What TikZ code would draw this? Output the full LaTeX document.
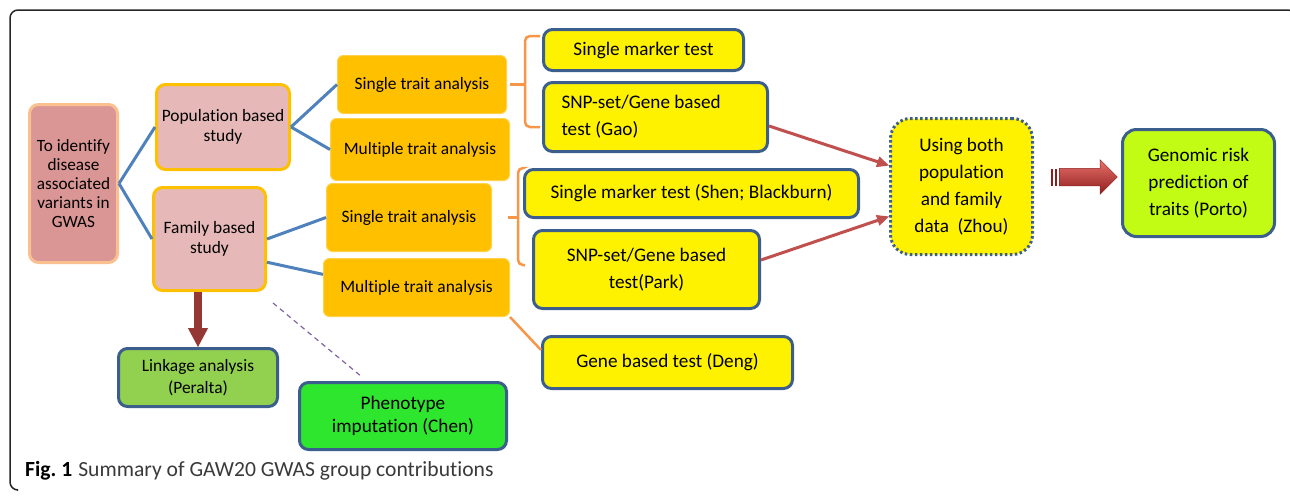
\documentclass[tikz,border=0pt]{standalone}
\usepackage{fontspec}
\setmainfont{Carlito}[Ligatures=NoCommon]
\usepackage{tikz}
\usetikzlibrary{arrows.meta,positioning,shapes.arrows,calc}
\definecolor{rootfill}{HTML}{D99694}
\definecolor{rootline}{HTML}{FAC090}
\definecolor{studyfill}{HTML}{E6B9B8}
\definecolor{gold}{HTML}{FFC000}
\definecolor{goldline}{HTML}{FFD24D}
\definecolor{testline}{HTML}{3B5E8C}
\definecolor{linkblue}{HTML}{4F81BD}
\definecolor{braceorange}{HTML}{F79646}
\definecolor{arrowred}{HTML}{C0504D}
\definecolor{arrowlight}{HTML}{E8706A}
\definecolor{arrowdark}{HTML}{8E1E1E}
\definecolor{darkred}{HTML}{953735}
\definecolor{linkgreen}{HTML}{92D050}
\definecolor{imputgreen}{HTML}{2EE62E}
\definecolor{limegreen}{HTML}{C2FC14}
\definecolor{dashpurple}{HTML}{8064A2}
\definecolor{capgray}{HTML}{3A3A3A}
\newcommand{\smallfont}{\fontsize{17.4}{19.5}\selectfont}
\newcommand{\bigfont}{\fontsize{19.2}{27}\selectfont}

\begin{document}
\begin{tikzpicture}[x=1pt, y=1pt, node distance=40pt, on grid,
        box/.style={rounded corners=9pt, inner sep=0pt, align=center, line width=3pt},
        rootbox/.style={box, fill=rootfill, draw=rootline, font=\fontsize{17.2}{19}\selectfont},
        studybox/.style={box, fill=studyfill, draw=gold, font=\smallfont},
        traitbox/.style={box, rounded corners=6pt, fill=gold, draw=goldline, line width=1pt, font=\smallfont},
        testbox/.style={box, fill=yellow, draw=testline, font=\bigfont},
        conn/.style={draw=linkblue, line width=3pt},
        brace/.style={draw=braceorange, line width=2.5pt, rounded corners=5pt},
        redarrow/.style={draw=arrowred, line width=3pt, -{Triangle[length=12pt,width=11pt,line width=1pt]}},
        downarrow/.style={draw=darkred, line width=8pt, -{Triangle[length=19pt,width=20pt,line width=1pt]}},
        dashline/.style={draw=dashpurple, line width=1.2pt, dash pattern=on 5pt off 4pt},
        bigarrowstyle/.style={single arrow, single arrow head extend=8.5pt, minimum height=58pt,
          inner xsep=0pt, inner ysep=8.5pt, outer sep=0pt, top color=arrowlight, middle color=arrowred, bottom color=arrowdark,
          draw=arrowdark, line width=0.5pt}]
        \useasboundingbox (0,0) rectangle (1290,-496);
        \draw[line width=1.5pt, black!85, rounded corners=8pt] (1296,-40) |- (10,-10) -- (10,-490) -- (17,-490);

        \node[rootbox, minimum width=88pt, minimum height=158pt] (root) at (73.5,-183.5) {To identify\\disease\\associated\\variants in\\GWAS};
        \node[studybox, minimum width=133pt, minimum height=85pt, above right=56.5pt and 149.5pt of root] (pop) {Population based\\study};
        \node[studybox, minimum width=112pt, minimum height=103pt, below right=55.5pt and 136pt of root] (fam) {Family based\\study};

        \node[traitbox, minimum width=169pt, minimum height=58pt, above right=42.5pt and 199pt of pop] (sta1) {Single trait analysis};
        \node[traitbox, minimum width=179pt, minimum height=62pt, below right=22.5pt and 197pt of pop] (mta1) {Multiple trait analysis};
        \node[traitbox, minimum width=165pt, minimum height=68pt, above right=21.5pt and 199.5pt of fam] (sta2) {Single trait analysis};
        \node[traitbox, minimum width=186pt, minimum height=58pt, below right=48.5pt and 207pt of fam] (mta2) {Multiple trait analysis};

        \node[testbox, minimum width=200pt, minimum height=41pt, above right=34.5pt and 221.5pt of sta1] (smt1) {Single marker test};
        \node[testbox, minimum width=224pt, minimum height=69pt, align=flush left, text width=188pt, inner xsep=18pt, below right=32.5pt and 233.5pt of sta1] (gao) {SNP-set/Gene based\\test (Gao)};
        \node[testbox, minimum width=334pt, minimum height=48pt, above right=24pt and 282.5pt of sta2] (shen) {Single marker test (Shen; Blackburn)};
        \node[testbox, minimum width=226pt, minimum height=78pt, below right=52pt and 237.5pt of sta2] (park) {SNP-set/Gene based\\test(Park)};
        \node[testbox, minimum width=250pt, minimum height=52pt, below right=75pt and 251pt of mta2] (deng) {Gene based test (Deng)};

        \node[box, fill=linkgreen, draw=testline, font=\fontsize{17.4}{21.5}\selectfont, minimum width=159pt, minimum height=58pt, below left=138.5pt and 11.5pt of fam] (link) {Linkage analysis\\(Peralta)};
        \node[box, fill=imputgreen, draw=testline, font=\fontsize{19.2}{23}\selectfont, minimum width=207pt, minimum height=67pt, below right=38.5pt and 205pt of link] (pheno) {Phenotype\\imputation (Chen)};

        \node[box, rounded corners=20pt, fill=yellow, draw=testline, dash pattern=on 2.5pt off 2.5pt, font=\bigfont, minimum width=142pt, minimum height=136pt, below right=69.5pt and 306pt of gao] (zhou) {Using both\\population\\and family\\data~~(Zhou)};
        \node[box, rounded corners=14pt, fill=limegreen, draw=testline, font=\bigfont, minimum width=152pt, minimum height=107pt, above right=3.5pt and 237pt of zhou] (porto) {Genomic risk\\prediction of\\traits (Porto)};
        \node[bigarrowstyle, above right=9.5pt and 122.5pt of zhou] (bigarrow) {};
        \fill[arrowdark] ([xshift=-8pt,yshift=8.5pt]bigarrow.tail) rectangle ([xshift=-6pt,yshift=-8.5pt]bigarrow.tail);
        \fill[arrowdark] ([xshift=-4.5pt,yshift=8.5pt]bigarrow.tail) rectangle ([xshift=-2.5pt,yshift=-8.5pt]bigarrow.tail);

        \path[conn] (root.east) edge (pop.west) edge (fam.west);
        \path[conn] (pop.east) edge (sta1.west) edge (mta1.west);
        \path[conn] (fam.east) edge (sta2.west)
          (fam.-22) edge (mta2.172);

        \coordinate[right=18pt of sta1.east] (b1);
        \draw[brace] ([xshift=-2pt,yshift=-8pt]smt1.north west) -| (b1) |- ([xshift=-2pt,yshift=26pt]gao.south west);
        \draw[brace] ([xshift=3pt]sta1.east) -- (b1);
        \coordinate[right=26pt of sta2.east] (b2);
        \draw[brace] ([xshift=-1pt]shen.north west) -| (b2) |- ([xshift=-7pt,yshift=4.5pt]park.west);
        \draw[brace] ([xshift=16pt]sta2.east) -- (b2);
        \draw[brace] (mta2.south east) -- ([yshift=-15pt]deng.north west);

        \draw[redarrow] ([yshift=-9pt]gao.east) -- ([yshift=21pt]zhou.west);
        \draw[redarrow] ([yshift=9.5pt]park.east) -- ([yshift=-30pt]zhou.west);
        \draw[downarrow] (fam.south -| link.north) -- (link.north);
        \draw[dashline] ([xshift=6pt,yshift=-11pt]fam.south east) -- ([xshift=-41pt,yshift=4pt]pheno.north);

        \node[anchor=base west, inner sep=0pt, text=capgray, font=\fontsize{21.6}{24}\selectfont] (caption) at (25,-476) {\textbf{\color{black}Fig.~1}\hspace{6pt}Summary of GAW20 GWAS group contributions};
      \end{tikzpicture}
\end{document}
